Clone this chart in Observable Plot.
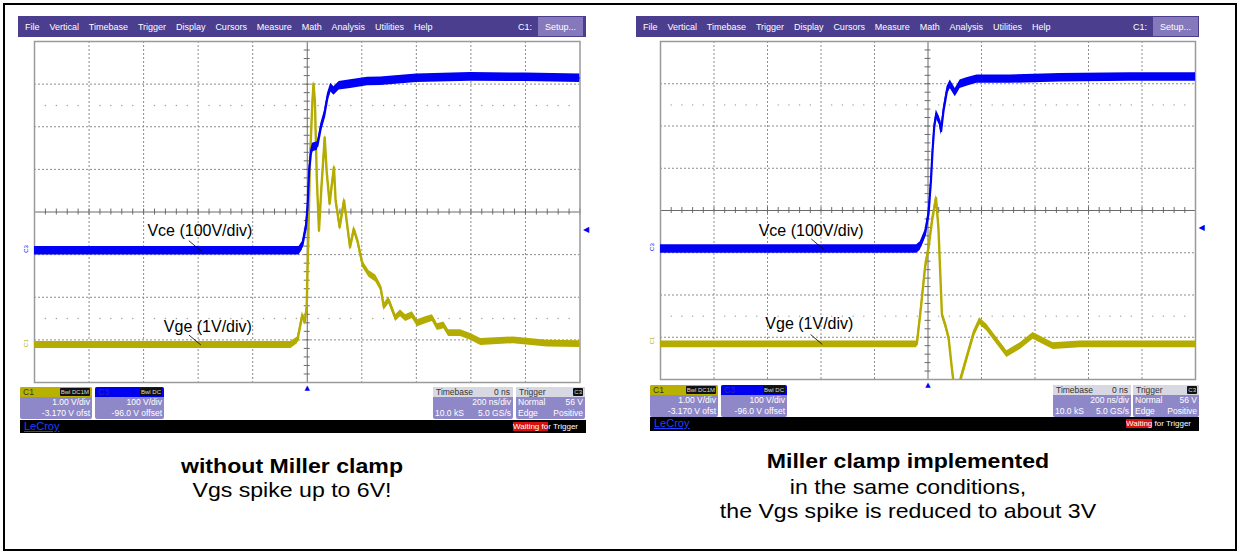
<!DOCTYPE html>
<html>
<head>
<meta charset="utf-8">
<script src="https://cdn.jsdelivr.net/npm/d3@7"></script>
<script src="https://cdn.jsdelivr.net/npm/@observablehq/plot@0.6"></script>
<style>
  html, body { margin:0; padding:0; background:#fff; }
  body { width:1239px; height:553px; position:relative; overflow:hidden; font-family:"Liberation Sans", Arial, sans-serif; }
  #frame { position:absolute; left:3px; top:3px; width:1230px; height:544px; border:2px solid #000; box-sizing:content-box; }
  .menu { position:absolute; background:#4b3e8e; color:#fff; font-size:9px; display:flex; align-items:center; box-sizing:border-box; padding-left:7px; }
  .menu span { margin-right:9.9px; white-space:nowrap; }
  .menu .c1 { position:absolute; font-size:9px; }
  .menu .setup { position:absolute; top:1px; bottom:1px; background:#8579bb; color:#fff; display:flex; align-items:center; justify-content:center; font-size:9px; }
  .box { position:absolute; background:#8f88c8; border-radius:2px; color:#fff; font-size:8.5px; line-height:10.5px; overflow:hidden; }
  .box .hd { height:10px; line-height:10px; padding:0 3px; position:relative; font-size:8.5px; }
  .box .r { text-align:right; padding:0 2px; }
  .box .lr { display:flex; justify-content:space-between; padding:0 2px; }
  .badge { position:absolute; right:2px; top:1px; height:8px; line-height:8px; background:#111; color:#ddd; font-size:6px; padding:0 1px; border-radius:1px; }
  .blk { position:absolute; background:#000; }
  .lecroy { position:absolute; left:4px; top:0; color:#2040ff; text-decoration:underline; font-size:11px; line-height:13px; }
  .wait { position:absolute; right:8px; top:2px; color:#fff; font-size:8px; line-height:10px; }
  .wait b { font-weight:normal; background:#d81010; }
  .cap { position:absolute; text-align:center; font-size:21px; line-height:22px; height:22px; color:#000; white-space:nowrap; transform:translateX(-50%) scaleX(1.1); }
  .cap.b { font-weight:bold; }
</style>
</head>
<body>
<div id="frame"></div>
<div id="root"></div>
<script>
// ---------------- data (time in ns, voltage in V) ----------------
const timeGridNs = [-1000, -800, -600, -400, -200, 0, 200, 400, 600, 800, 1000];
const divGrid = [-4, -3, -2, -1, 0, 1, 2, 3, 4];
const dottedRowsDiv = [-2.5, 2.5];

// channel settings (as shown in status boxes)
const c1Label = "C1", c1VoltsPerDiv = 1.0, c1Offset = -3.17;   // Vge
const c3Label = "C3", c3VoltsPerDiv = 100, c3Offset = -96.0;   // Vce
const triggerLevelV = 56;
const triggerTimeNs = 0;
// approximate noise half-band of each trace, in divisions
const c1NoiseDiv = 0.08;
const c3NoiseDiv = 0.1;

// Left: without Miller clamp
const leftVceT = [-1000, -30, -18, -5, 1, 7, 13, 19, 37, 50, 62, 74, 86, 98, 117, 159, 221, 269, 401, 599, 800, 1000];
const leftVceV = [5, 5, 17, 60, 107, 193, 232, 247, 251, 294, 321, 364, 388, 380, 392, 396, 402, 403, 410, 413, 412, 410];
const leftVgeT = [-1000, -60, -36, -18, -9, -2, 3, 10, 19, 23, 28, 35, 43, 52, 64, 71, 82, 89, 98, 104, 119, 135, 157, 171, 184, 202, 226, 251, 269, 281, 299, 324, 342, 361, 385, 404, 434, 459, 477, 501, 518, 562, 599, 636, 756, 880, 1000];
const leftVgeV = [0.05, 0.05, 0.16, 0.75, 0.59, 0.94, 2.34, 4.37, 5.78, 6.18, 5.78, 3.98, 2.73, 3.75, 4.92, 4.14, 3.36, 3.75, 4.22, 3.44, 2.81, 3.44, 2.34, 2.77, 2.50, 1.96, 1.72, 1.61, 1.40, 0.94, 1.10, 0.68, 0.79, 0.68, 0.75, 0.56, 0.63, 0.68, 0.47, 0.51, 0.33, 0.33, 0.24, 0.12, 0.16, 0.08, 0.07];

// Right: Miller clamp implemented
const rightVceT = [-1000, -42, -29, -11, 2, 11, 17, 23, 31, 43, 49, 58, 71, 83, 102, 120, 145, 183, 307, 494, 756, 1000];
const rightVceV = [5, 5, 12, 40, 88, 166, 237, 292, 324, 308, 284, 332, 379, 395, 375, 395, 400, 407, 407, 410, 412, 412];
const rightVgeT = [-1000, -42, -29, -11, 2, 15, 30, 39, 52, 64, 77, 89, 95, 109, 120, 145, 170, 193, 220, 258, 295, 345, 393, 431, 468, 569, 1000];
const rightVgeV = [0, 0, 0.72, 1.82, 2.29, 2.92, 3.47, 2.76, 0.72, 0.48, 0.16, -0.55, -0.87, -1.3, -0.87, -0.31, 0.24, 0.55, 0.40, 0.08, -0.23, -0.04, 0.20, 0.08, -0.04, 0, 0];

// trace annotations (label, channel, time of the leader's tip on the trace)
const annoLabels = ["Vce (100V/div)", "Vge (1V/div)"];
const annoChannels = ["C3", "C1"];
const leftAnnoTimeNs = [-390, -390];
const rightAnnoTimeNs = [-392, -395];

// texts
const menuItems = ["File", "Vertical", "Timebase", "Trigger", "Display", "Cursors", "Measure", "Math", "Analysis", "Utilities", "Help"];
const captionsLeft = ["without Miller clamp", "Vgs spike up to 6V!"];
const captionsRight = ["Miller clamp implemented", "in the same conditions,", "the Vgs spike is reduced to about 3V"];

// ---------------- drawing ----------------
const BLUE = "#0000f4", YEL = "#b4ac00";
const toDiv = (v, ch) => ch === "C3" ? (v + c3Offset) / c3VoltsPerDiv : (v + c1Offset) / c1VoltsPerDiv;
const minorT = d3.range(-1000, 1001, 40).filter(t => t % 200 !== 0);
const allMinorT = d3.range(-1000, 1001, 40);
const allMinorD = d3.range(-20, 21).map(k => k / 5);

function traceMarks(data, color, noise, core) {
  return [
    Plot.areaY(data, {x: "t", y1: d => d.d - noise, y2: d => d.d + noise, fill: color, clip: true}),
    Plot.line(data, {x: "t", y: "d", stroke: color, strokeWidth: core, clip: true, strokeLinejoin: "round"})
  ];
}

function scopePlot(p) {
  const ML = 20, MR = 12, MT = 2, MB = 10;
  const vce = p.vce[0].map((t, i) => ({t, d: toDiv(p.vce[1][i], "C3")}));
  const vge = p.vge[0].map((t, i) => ({t, d: toDiv(p.vge[1][i], "C1")}));
  const groundC3 = toDiv(0, "C3"), groundC1 = toDiv(0, "C1");
  const anno = annoLabels.map((label, i) => {
    const src = annoChannels[i] === "C3" ? vce : vge;
    return {label, t: p.annoT[i], d: src[0].d};
  });
  const dots = [];
  for (const y of dottedRowsDiv) for (const t of minorT) dots.push({t, y});
  const annoMarks = anno.flatMap((a, i) => [
    Plot.link([a], {x1: d => d.t - 44, y1: d => d.d + 0.235, x2: "t", y2: "d", stroke: "#000", strokeWidth: 0.8}),
    Plot.text([a], {x: "t", y: "d", text: "label", dx: p.annoDx[i], dy: p.annoDy[i], fontSize: 16, fill: "#000"})
  ]);
  const plot = Plot.plot({
    width: p.gw + ML + MR, height: p.gh + MT + MB,
    marginLeft: ML, marginRight: MR, marginTop: MT, marginBottom: MB,
    x: {domain: [-1000, 1000], axis: null},
    y: {domain: [-4, 4], axis: null},
    style: {background: "transparent", overflow: "visible", fontFamily: "Liberation Sans, Arial, sans-serif"},
    marks: [
      Plot.ruleX(timeGridNs.filter(t => t !== 0 && Math.abs(t) !== 1000), {stroke: "#8c8c8c", strokeDasharray: "2,2", strokeWidth: 1}),
      Plot.ruleY(divGrid.filter(d => d !== 0 && Math.abs(d) !== 4), {stroke: "#8c8c8c", strokeDasharray: "2,2", strokeWidth: 1}),
      Plot.dot(dots, {x: "t", y: "y", r: 0.7, fill: "#9a9a9a", stroke: null}),
      Plot.ruleX([0], {stroke: "#6a6a6a", strokeWidth: 1}),
      Plot.ruleY([0], {stroke: "#6a6a6a", strokeWidth: 1}),
      Plot.ruleX(allMinorT, {x: d => d, y1: -0.07, y2: 0.07, stroke: "#6a6a6a"}),
      Plot.ruleY(allMinorD, {y: d => d, x1: -11, x2: 11, stroke: "#6a6a6a"}),
      Plot.frame({stroke: "#9a9a9a", strokeWidth: 1.5}),
      ...traceMarks(vge, YEL, c1NoiseDiv, 2.4),
      ...traceMarks(vce, BLUE, c3NoiseDiv, 2.2),
      ...annoMarks,
      // ground markers
      Plot.text([{t: -1000, d: groundC3, s: c3Label, c: BLUE}, {t: -1000, d: groundC1, s: c1Label, c: YEL}],
        {x: "t", y: "d", text: "s", fill: "c", rotate: -90, dx: -8, dy: -4, fontSize: 6}),
      // trigger level & position markers
      Plot.text([triggerLevelV], {x: 1000, y: d => toDiv(d, "C3"), text: () => "◀", fill: BLUE, dx: 6, fontSize: 8, fontFamily: "DejaVu Sans"}),
      Plot.text([triggerTimeNs], {x: d => d, y: -4, text: () => "▲", fill: BLUE, dy: 5, fontSize: 7, fontFamily: "DejaVu Sans"})
    ]
  });
  plot.style.position = "absolute";
  plot.style.left = (p.gx - ML) + "px";
  plot.style.top = (p.gy - MT) + "px";
  return plot;
}

function menuBar(x, y, w, h, c1x, sx, sw) {
  const m = document.createElement("div");
  m.className = "menu";
  Object.assign(m.style, {left: x + "px", top: y + "px", width: w + "px", height: h + "px"});
  m.innerHTML = menuItems.map(s => `<span>${s}</span>`).join("") +
    `<div class="c1" style="left:${c1x}px">C1:</div><div class="setup" style="left:${sx}px;width:${sw}px">Setup...</div>`;
  return m;
}

function statusArea(g) {
  const wrap = document.createElement("div");
  const bh = g.boxH;
  wrap.innerHTML = `
  <div class="box" style="left:${g.c1[0]}px;top:${g.sy}px;width:${g.c1[1]}px;height:${bh}px">
    <div class="hd" style="background:#b8b100;color:#333">${c1Label}<span class="badge">Bwl DC1M</span></div>
    <div class="r">${c1VoltsPerDiv.toFixed(2)} V/div</div>
    <div class="r">${c1Offset.toFixed(3)} V ofst</div>
  </div>
  <div class="box" style="left:${g.c3[0]}px;top:${g.sy}px;width:${g.c3[1]}px;height:${bh}px">
    <div class="hd" style="background:#0000f0;color:#2a2aa0">${c3Label}<span class="badge">Bwl DC</span></div>
    <div class="r">${c3VoltsPerDiv} V/div</div>
    <div class="r">${c3Offset.toFixed(1)} V offset</div>
  </div>
  <div class="box" style="left:${g.tb[0]}px;top:${g.sy}px;width:${g.tb[1]}px;height:${bh}px">
    <div class="hd" style="background:#d8d8e2;color:#333;display:flex;justify-content:space-between"><span>Timebase</span><span>${triggerTimeNs} ns</span></div>
    <div class="r">200 ns/div</div>
    <div class="lr"><span>10.0 kS</span><span>5.0 GS/s</span></div>
  </div>
  <div class="box" style="left:${g.tr[0]}px;top:${g.sy}px;width:${g.tr[1]}px;height:${bh}px">
    <div class="hd" style="background:#d8d8e2;color:#333">Trigger<span class="badge">${c3Label}</span></div>
    <div class="lr"><span>Normal</span><span>${triggerLevelV} V</span></div>
    <div class="lr"><span>Edge</span><span>Positive</span></div>
  </div>
  <div class="blk" style="left:${g.bk[0]}px;top:${g.bk[1]}px;width:${g.bk[2]}px;height:${g.bk[3]}px">
    <span class="lecroy">LeCroy</span>
    <span class="wait">${g.waitHtml}</span>
  </div>`;
  return wrap;
}

function caption(lines, cx, tops) {
  const frag = document.createDocumentFragment();
  lines.forEach((s, i) => {
    const d = document.createElement("div");
    d.className = "cap" + (i === 0 ? " b" : "");
    d.style.left = cx + "px";
    d.style.top = tops[i] + "px";
    d.textContent = s;
    frag.appendChild(d);
  });
  return frag;
}

const root = document.getElementById("root");
const panels = [
  {vce: [leftVceT, leftVceV], vge: [leftVgeT, leftVgeV], gx: 33.5, gy: 40.5, gw: 545.5, gh: 341,
   annoT: leftAnnoTimeNs, annoDx: [-1, 7], annoDy: [-20, -18],
   bar: [18, 16, 568, 21, 500, 520, 45],
   st: {sy: 387, boxH: 32, c1: [20, 72], c3: [95, 69], tb: [433, 80], tr: [516, 69], bk: [20, 420, 566, 13],
        waitHtml: "<b>Waiting fo</b>r Trigger"},
   cap: [captionsLeft, 292, [455, 479]]},
  {vce: [rightVceT, rightVceV], vge: [rightVgeT, rightVgeV], gx: 660, gy: 40.5, gw: 535, gh: 338,
   annoT: rightAnnoTimeNs, annoDx: [-12, -13], annoDy: [-18, -21],
   bar: [636, 16, 563, 21, 497, 517, 45],
   st: {sy: 385, boxH: 32, c1: [650, 68], c3: [721, 66], tb: [1053, 78], tr: [1133, 66], bk: [650, 417, 549, 14],
        waitHtml: "<b>Waiting</b> for Trigger"},
   cap: [captionsRight, 908, [450, 476, 500]]}
];

for (const p of panels) {
  root.appendChild(scopePlot(p));
  root.appendChild(menuBar(...p.bar));
  root.appendChild(statusArea(p.st));
  root.appendChild(caption(p.cap[0], p.cap[1], p.cap[2]));
}
</script>
</body>
</html>
